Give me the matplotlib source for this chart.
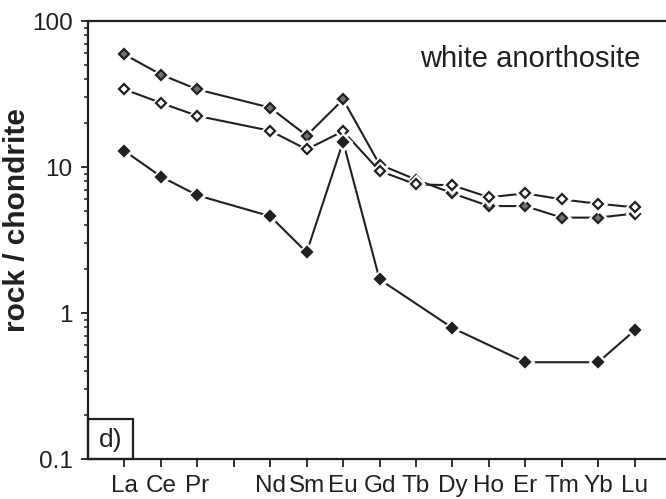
import numpy as np
import matplotlib
matplotlib.use("Agg")
import matplotlib.pyplot as plt
from matplotlib.patches import Rectangle

plt.rcParams['font.family'] = ['Liberation Sans', 'DejaVu Sans']

# REE, chondrite normalised (Pm not analysed)
elements = ['La', 'Ce', 'Pr', 'Pm', 'Nd', 'Sm', 'Eu', 'Gd', 'Tb', 'Dy', 'Ho', 'Er', 'Tm', 'Yb', 'Lu']
tick_labels = ['La', 'Ce', 'Pr', '', 'Nd', 'Sm', 'Eu', 'Gd', 'Tb', 'Dy', 'Ho', 'Er', 'Tm', 'Yb', 'Lu']

gray_sample = [59, 43, 34, np.nan, 25.5, 16.4, 29, 10.4, 8.2, 6.6, 5.4, 5.4, 4.5, 4.5, 4.8]
open_sample = [34, 27.5, 22.4, np.nan, 17.7, 13.2, 17.6, 9.4, 7.6, 7.5, 6.2, 6.6, 6.0, 5.6, 5.3]
black_sample = [12.9, 8.6, 6.4, np.nan, 4.6, 2.6, 14.9, 1.7, np.nan, 0.79, np.nan, 0.46, np.nan, 0.46, 0.76]

ink = '#231f20'

fig = plt.figure(figsize=(6.66, 4.99), dpi=100)
ax = fig.add_axes([88/666, 1 - 459/499, 578/666, 438/499])

x = np.arange(len(elements))
series = [(gray_sample, '#717173'), (open_sample, 'white'), (black_sample, ink)]
z = 3
for vals, face in series:
    v = np.array(vals, dtype=float)
    ok = ~np.isnan(v)
    ax.plot(x[ok], v[ok], '-', color=ink, lw=1.5, zorder=z)
    # white halo around the markers
    ax.plot(x[ok], v[ok], 'D', ms=5, mfc='white', mec='white', mew=5, ls='none', zorder=z + 1)
    ax.plot(x[ok], v[ok], 'D', ms=5, mfc=face, mec=ink, mew=1.6, ls='none', zorder=z + 2)
    z += 3

ax.set_yscale('log')
ax.set_ylim(0.1, 100)
ax.set_xlim(-1, 14.86)
ax.set_yticks([0.1, 1, 10, 100])
ax.set_yticklabels(['0.1', '1', '10', '100'])
ax.set_xticks(x)
ax.set_xticklabels(tick_labels)

for side in ['left', 'top', 'bottom']:
    ax.spines[side].set_linewidth(1.6)
    ax.spines[side].set_color(ink)
ax.spines['right'].set_visible(False)

ax.tick_params(axis='y', which='major', direction='out', length=5, width=1.3,
               colors=ink, labelsize=17.5, pad=6)
ax.tick_params(axis='y', which='minor', direction='out', length=3, width=1.1, colors=ink)
ax.tick_params(axis='x', direction='out', length=5.5, width=1.3, colors=ink,
               labelsize=17.5, pad=6)

ax.text(0.955, 0.895, 'white anorthosite', transform=ax.transAxes, ha='right',
        va='baseline', fontsize=21, color=ink)

ax.add_patch(Rectangle((0, 0), 45/578, 40/438, transform=ax.transAxes, fill=False,
                       lw=1.6, edgecolor=ink, zorder=10, clip_on=False))
ax.text(23/578, 19/438, 'd)', transform=ax.transAxes, ha='center', va='center',
        fontsize=19, color=ink, zorder=11)

fig.text(17/666, 1 - 220/499, 'rock / chondrite', rotation=90, ha='center', va='center',
         fontsize=21.5, fontweight='bold', color=ink)

fig.savefig('out.png', dpi=100)
